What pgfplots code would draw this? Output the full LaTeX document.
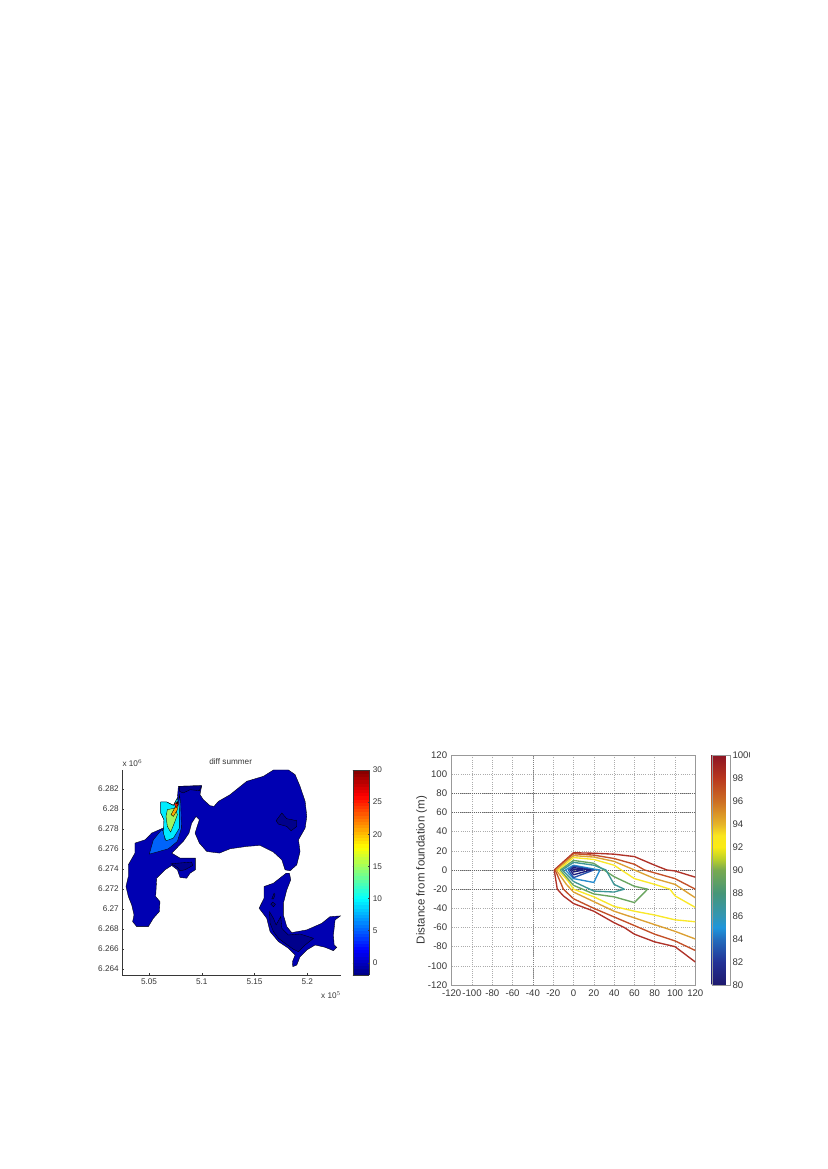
\documentclass[border=0pt]{standalone}
\usepackage{fontspec}
\setmainfont{Liberation Sans}
\usepackage{pgfplots}
\pgfplotsset{compat=1.18}
\pgfplotsset{/pgf/number format/assume math mode=true}

\definecolor{txt}{RGB}{55,55,55}
\definecolor{basin}{RGB}{0,0,178}
\definecolor{deep}{RGB}{0,0,140}
\definecolor{band}{RGB}{0,100,250}
\definecolor{cy}{RGB}{0,235,255}
\definecolor{gr}{RGB}{160,245,95}
\definecolor{og}{RGB}{255,165,0}
\definecolor{rd}{RGB}{235,30,0}
\definecolor{dr}{RGB}{130,0,0}

\definecolor{c100}{RGB}{175,50,40}
\definecolor{c98}{RGB}{195,80,40}
\definecolor{c96}{RGB}{220,160,50}
\definecolor{c93}{RGB}{250,232,40}
\definecolor{c90}{RGB}{105,165,95}
\definecolor{c88}{RGB}{60,150,150}
\definecolor{c85}{RGB}{40,140,205}
\definecolor{c83}{RGB}{35,80,170}
\definecolor{c81}{RGB}{30,30,125}

\newcommand{\fsmall}{\fontsize{8.2}{9.5}\selectfont}
\newcommand{\fbig}{\fontsize{9.6}{11}\selectfont}

\begin{document}
\begin{tikzpicture}
\path[use as bounding box, fill=white] (0pt,0pt) rectangle (827pt,1169pt);

% left panel
\begin{axis}[
    at={(122.3pt,194pt)}, anchor=south west,
    scale only axis, width=218.4pt, height=205pt,
    xmin=5.0247, xmax=5.2316, ymin=6.2634, ymax=6.2839,
    axis x line*=bottom, axis y line*=left,
    axis line style={-, draw=txt, line width=.35pt},
    xtick={5.05,5.1,5.15,5.2},
    ytick={6.264,6.266,6.268,6.27,6.272,6.274,6.276,6.278,6.28,6.282},
    scaled ticks=false,
    x tick label style={/pgf/number format/.cd, fixed, precision=2},
    y tick label style={/pgf/number format/.cd, fixed, precision=3},
    tick label style={font=\fsmall, text=txt},
    tick style={draw=txt, line width=.3pt},
    tick align=inside, major tick length=2pt,
    clip=false,
    colormap/jet, point meta min=-1.92, point meta max=30,
    colorbar sampled,
    colorbar style={
        samples=65, at={(1.055,1)}, anchor=north west,
        width=16.6pt, ytick={0,5,...,30},
        yticklabel style={font=\fsmall, text=txt},
        major tick length=1.5pt,
        axis line style={draw=txt, line width=.35pt},
        /pgf/number format/assume math mode=true,
    },
    every axis plot/.append style={line width=.35pt, draw=black, mark=none},
]
\addplot[fill=basin] coordinates {
(5.0778,6.28227)(5.0999,6.28233)(5.0983,6.28143)(5.1015,6.28093)(5.1078,6.28033)
(5.1116,6.28026)(5.1157,6.28076)(5.1268,6.28143)(5.1426,6.28277)(5.1584,6.28327)
(5.1679,6.2839)(5.1821,6.2839)(5.1884,6.28344)(5.1931,6.28227)(5.1979,6.28076)
(5.1995,6.27926)(5.1979,6.27809)(5.1916,6.27692)(5.1931,6.27575)(5.19,6.27442)
(5.1837,6.27382)(5.1789,6.27392)(5.1758,6.27492)(5.1679,6.27569)(5.1552,6.27636)
(5.1426,6.27626)(5.1268,6.27602)(5.1167,6.27559)(5.1047,6.27575)(5.0977,6.27659)
(5.0936,6.27759)(5.0977,6.27893)(5.0946,6.27926)(5.0904,6.27859)(5.0879,6.27759)
(5.0825,6.27676)(5.0715,6.27559)(5.0794,6.27509)(5.0939,6.27509)(5.0939,6.27392)
(5.0889,6.27358)(5.0857,6.27308)(5.0794,6.27315)(5.0769,6.27392)(5.0715,6.27435)
(5.0652,6.27392)(5.0573,6.27308)(5.0563,6.27125)(5.0604,6.27074)(5.0598,6.26974)
(5.0541,6.26907)(5.0494,6.26824)(5.0383,6.26824)(5.0345,6.26874)(5.0358,6.26941)
(5.0336,6.27041)(5.0304,6.27125)(5.0282,6.27225)(5.0304,6.27325)(5.0304,6.27442)
(5.0367,6.27559)(5.0367,6.27659)(5.0462,6.27692)(5.0525,6.27759)(5.062,6.27803)
(5.0642,6.27809)(5.0642,6.27893)(5.0611,6.2796)(5.0611,6.2807)(5.0667,6.2807)
(5.0731,6.28036)(5.0769,6.2811)
} --cycle;
\addplot[fill=basin] coordinates {
(5.183,6.27358)(5.1843,6.27292)(5.1805,6.27191)(5.1773,6.27058)(5.1773,6.26941)
(5.1805,6.26824)(5.1852,6.26764)(5.1995,6.26791)(5.2137,6.26857)(5.2216,6.26924)
(5.2314,6.26931)(5.2263,6.26891)(5.2247,6.2674)(5.2254,6.2664)(5.2279,6.26617)
(5.2247,6.26583)(5.2168,6.26617)(5.2074,6.2664)(5.1995,6.2659)(5.1931,6.26523)
(5.19,6.2644)(5.1862,6.26423)(5.1859,6.26473)(5.1884,6.2654)(5.1821,6.26607)
(5.1726,6.26674)(5.1647,6.26774)(5.1615,6.26907)(5.1543,6.27008)(5.159,6.27108)
(5.159,6.27225)(5.1679,6.27258)(5.1799,6.27358)
} --cycle;
% shallow patches
\addplot[fill=deep] coordinates {
(5.1704,6.27883)(5.1758,6.2796)(5.1805,6.27903)(5.19,6.27883)(5.19,6.27826)
(5.1846,6.27782)(5.1805,6.27826)(5.1726,6.27849)
} --cycle;
\addplot[fill=deep] coordinates {
(5.0709,6.27452)(5.0778,6.27459)(5.0904,6.27469)(5.0914,6.27435)(5.0841,6.27392)
(5.0794,6.27382)(5.0769,6.27415)
} --cycle;
\addplot[fill=deep] coordinates {
(5.0788,6.28227)(5.0999,6.28233)(5.0977,6.28183)(5.0889,6.28193)(5.0825,6.2816)(5.0788,6.28177)
} --cycle;
\addplot[fill=deep] coordinates {
(5.1641,6.26974)(5.1679,6.26907)(5.1704,6.26841)(5.1748,6.26924)(5.1758,6.26807)
(5.1821,6.2674)(5.1931,6.2675)(5.2058,6.26707)(5.1979,6.2664)(5.1916,6.26573)
(5.1868,6.26597)(5.1789,6.26657)(5.1726,6.26707)(5.1679,6.26774)(5.1647,6.26857)
} --cycle;
\addplot[fill=deep] coordinates {(5.1663,6.27101)(5.1685,6.27158)(5.1694,6.27141)(5.1679,6.27101)} --cycle;
\addplot[fill=deep] coordinates {(5.1653,6.27048)(5.1672,6.27068)(5.1698,6.27048)(5.1679,6.27021)} --cycle;
% plume
\addplot[fill=band] coordinates {
(5.0503,6.27549)(5.0541,6.27692)(5.062,6.27793)(5.0642,6.27769)(5.0652,6.27692)
(5.0715,6.27702)(5.0769,6.27793)(5.0788,6.28143)(5.08,6.2806)(5.0807,6.27809)
(5.0769,6.27676)(5.0683,6.27602)(5.0573,6.27569)
} --cycle;
\addplot[fill=cy] coordinates {
(5.0611,6.2807)(5.0667,6.2807)(5.0731,6.28036)(5.0769,6.2811)(5.0788,6.2801)
(5.0788,6.27809)(5.0731,6.27709)(5.0661,6.27682)(5.0636,6.27759)(5.0642,6.27893)(5.0611,6.2796)
} --cycle;
\addplot[fill=gr] coordinates {
(5.0674,6.27993)(5.0746,6.2801)(5.0769,6.27943)(5.0746,6.27876)(5.0705,6.27769)
(5.0674,6.27826)(5.0661,6.27926)
} --cycle;
\addplot[fill=og] coordinates {
(5.0709,6.27943)(5.0746,6.28016)(5.0778,6.2806)(5.0769,6.27993)(5.0731,6.27926)
} --cycle;
\addplot[fill=rd] coordinates {(5.074,6.2805)(5.0769,6.28076)(5.0775,6.28043)(5.0756,6.2801)} --cycle;
\addplot[fill=dr] coordinates {(5.0759,6.28056)(5.0772,6.2807)(5.0772,6.2805)} --cycle;
\end{axis}
\node[font=\fsmall, text=txt, inner sep=0pt] at (230.7pt,407.3pt) {diff summer};
\node[font=\fsmall, text=txt, inner sep=0pt, anchor=west] at (122.3pt,406pt) {x 10$^{6}$};
\node[font=\fsmall, text=txt, inner sep=0pt, anchor=east] at (341pt,174pt) {x 10$^{5}$};

% right panel, the 1000 label runs off the edge of the source image
\begin{scope}
\clip (0pt,0pt) rectangle (749pt,1169pt);
\begin{axis}[
    at={(451.7pt,184pt)}, anchor=south west,
    scale only axis, width=243.6pt, height=230pt,
    xmin=-120, xmax=120, ymin=-120, ymax=120,
    xtick={-120,-100,...,120}, ytick={-120,-100,...,120},
    axis line style={draw=gray!80, line width=.7pt},
    tick label style={font=\fbig, text=txt},
    tick style={draw=none}, major tick length=0pt,
    xticklabel style={yshift=-1pt}, yticklabel style={xshift=-1pt},
    grid=major,
    grid style={dash pattern=on .9pt off 1.3pt, draw=gray!65, line width=.5pt},
    extra y ticks={80,60,0,-20},
    extra y tick labels={,,,},
    extra y tick style={grid style={dash pattern=on 1pt off 1pt, draw=black!60, line width=.55pt}},
    extra x ticks={-40},
    extra x tick labels={,},
    extra x tick style={grid style={dash pattern=on 1pt off 1pt, draw=black!50, line width=.55pt}},
    ylabel={Distance from foundation (m)},
    ylabel style={font=\fontsize{11.5}{13}\selectfont, text=txt, at={(axis description cs:-0.123,0.5)}, anchor=center},
    colormap={fnd}{rgb255(0cm)=(30,25,110); rgb255(2cm)=(35,50,150); rgb255(4cm)=(35,110,190);
        rgb255(5cm)=(30,150,220); rgb255(6cm)=(50,150,180); rgb255(8cm)=(70,150,120);
        rgb255(10cm)=(120,170,80); rgb255(11cm)=(190,210,40); rgb255(12cm)=(250,235,20);
        rgb255(13cm)=(250,230,30); rgb255(14cm)=(230,180,40); rgb255(16cm)=(205,110,35);
        rgb255(18cm)=(185,55,30); rgb255(20cm)=(140,20,35)},
    point meta min=80, point meta max=100,
    colorbar,
    colorbar style={
        at={(1.0673,1)}, anchor=north west, width=18.3pt,
        ytick={80,82,...,100},
        yticklabels={80,82,84,86,88,90,92,94,96,98,1000},
        yticklabel style={font=\fbig, text=txt, xshift=-1pt},
        axis line style={draw=gray!80, line width=.4pt},
        major tick length=0pt,
        /pgf/number format/assume math mode=true,
    },
    every axis plot/.append style={line width=1.35pt, mark=none, line join=round},
]
\addplot[c100] coordinates {(120,-7.5)(100,-1)(92,0)(80,5)(60,14)(40,16.5)(20,17.5)(0,18)(-19,0)(-16,-20)(-10,-27)(0,-35)(20,-43)(40,-55)(50,-60)(60,-67)(80,-75)(100,-80)(120,-96)};
\addplot[c98] coordinates {(120,-20)(100,-9)(80,-3)(70,0)(60,6)(40,12)(20,15.5)(0,17)(-18,0)(-10,-20)(0,-30)(20,-40)(40,-49)(60,-58)(80,-67)(100,-74)(120,-84)};
\addplot[c96] coordinates {(120,-29)(100,-15)(80,-9)(60,0)(40,9)(20,13.5)(0,15)(-17,0)(-7,-15)(0,-23)(20,-33)(40,-43)(60,-50)(80,-57)(100,-64)(120,-72)};
\addplot[c93] coordinates {(120,-39)(100,-27)(95,-20)(80,-15)(60,-9)(40,5)(20,11)(0,13)(-15,0)(-5,-12)(0,-20)(20,-28)(40,-38)(60,-43)(80,-47)(100,-52)(120,-54)};
\addplot[c90] coordinates {(-13,0)(0,10)(20,7)(40,-7)(60,-17)(73,-20)(60,-34)(40,-28)(20,-25)(0,-16)(-13,0)};
\addplot[c88] coordinates {(-11,0)(0,8)(20,5)(32,0)(40,-15)(50,-20)(40,-23)(20,-22)(0,-12)(-11,0)};
\addplot[c85] coordinates {(-8,0)(0,5)(20,1)(26,0)(20,-13)(0,-9)(-8,0)};
\addplot[c83] coordinates {(-5,0)(0,4)(20,0)(0,-8)(-5,0)};
\addplot[c81] coordinates {(-3,0)(0,2.5)(17,0)(0,-5)(-3,0)};
\addplot[c81] coordinates {(-1,0)(0,1)(10,0)(0,-2)(-1,0)};
\end{axis}
\end{scope}
\end{tikzpicture}
\end{document}
